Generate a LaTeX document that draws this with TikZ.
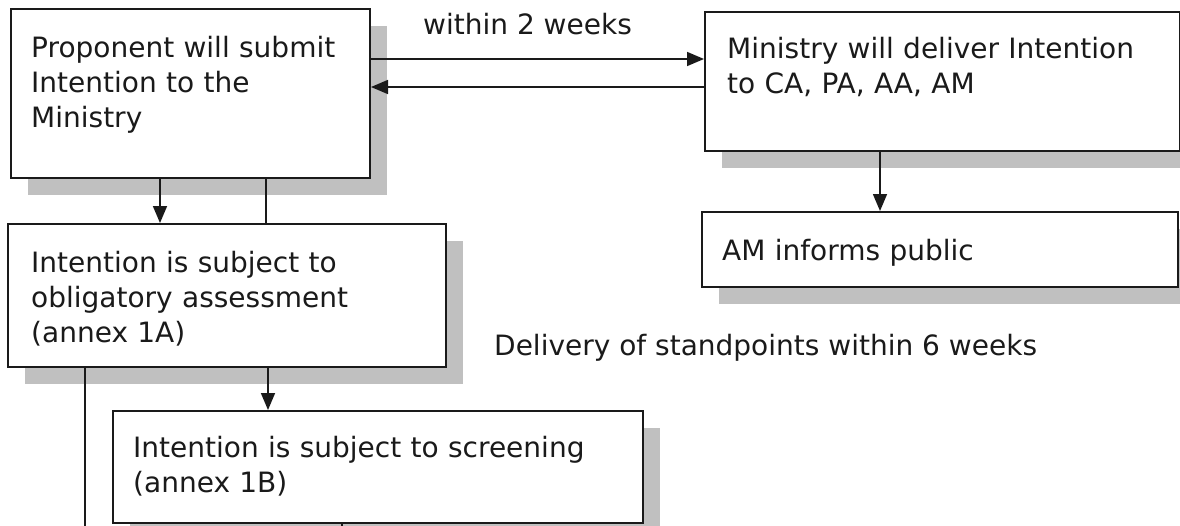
\documentclass[tikz,border=0pt]{standalone}
\usepackage{fontspec}
\setmainfont{DejaVu Sans}
\usetikzlibrary{shadows,arrows.meta,calc}
\definecolor{shadowgray}{HTML}{C0C0C0}
\definecolor{ink}{HTML}{1A1A1A}
\begin{document}
\begin{tikzpicture}[x=1pt,y=-1pt,
  box/.style={draw=ink, line width=2pt, fill=white, inner sep=0pt,
    drop shadow={shadow xshift=17pt, shadow yshift=-17pt, fill=shadowgray, opacity=1}},
  txt/.style={inner sep=0pt, text=ink, text width=520pt, align=left,
    font=\fontsize{28}{35}\selectfont, anchor=base west},
  lbl/.style={inner sep=0pt, text=ink, font=\fontsize{28}{35}\selectfont, anchor=base west},
  conn/.style={draw=ink, line width=1.6pt},
  arr/.style={conn, -{Triangle[length=17pt,width=14pt]}}]
\path[use as bounding box, clip] (0,0) rectangle (1180,525);
\fill[white] (0,0) rectangle (1180,525);

% boxes
\node[box, minimum width=359pt, minimum height=169pt, anchor=north west] (b1) at (10,8) {};
\node[box, minimum width=475pt, minimum height=139pt, anchor=north west] (b2) at (704,11) {};
\node[box, minimum width=476pt, minimum height=75pt, anchor=north west] (b3) at (701,211) {};
\node[box, minimum width=438pt, minimum height=143pt, anchor=north west] (b4) at (7,223) {};
\node[box, minimum width=530pt, minimum height=112pt, anchor=north west] (b5) at (112,410) {};

% texts
\node[txt] (t1) at (31,57) {Proponent will submit\\Intention to the\\Ministry};
\node[txt] (t2) at (727,58) {Ministry will deliver Intention\\to CA, PA, AA, AM};
\node[txt] (t3) at (722,260) {AM informs public};
\node[txt] (t4) at (31,272) {Intention is subject to\\obligatory assessment\\(annex 1A)};
\node[txt] (t5) at (133,457) {Intention is subject to screening\\(annex 1B)};
\node[lbl] (l1) at (423,34) {within 2 weeks};
\node[lbl] (l2) at (494,355) {Delivery of standpoints within 6 weeks};

% connectors
\coordinate (e1) at (85,530);
\coordinate (e2) at (342,530);
\draw[arr] (b1.east |- 0,59) -- (b2.west |- 0,59);
\draw[arr] (b2.west |- 0,87) -- (b1.east |- 0,87);
\draw[arr] (b1.south -| 160,0) -- (b4.north -| 160,0);
\draw[conn] (b1.south -| 266,0) -- (b4.north -| 266,0);
\draw[arr] (b2.south -| 880,0) -- (b3.north -| 880,0);
\draw[arr] (b4.south -| 268,0) -- (b5.north -| 268,0);
\draw[conn] (b4.south -| e1) -- (e1);
\draw[conn] (b5.south -| e2) -- (e2);
\end{tikzpicture}
\end{document}
